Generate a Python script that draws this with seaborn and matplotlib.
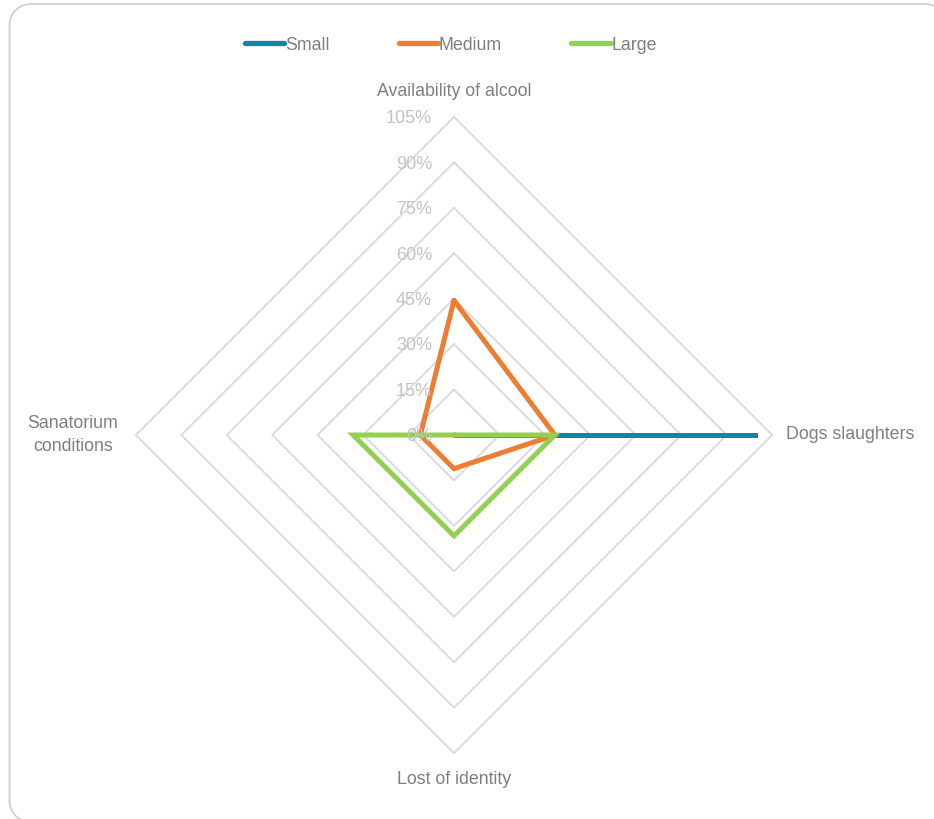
import numpy as np
import pandas as pd
import seaborn as sns
import matplotlib
matplotlib.use("Agg")
import matplotlib.pyplot as plt
from matplotlib.lines import Line2D

# Share of respondents per factor, by community size (%)
categories = ["Availability of alcool", "Dogs slaughters", "Lost of identity", "Sanatorium\nconditions"]
small = [0.0, 100.0, 0.0, 0.0]
medium = [44.4, 33.3, 11.1, 11.1]
large = [0.0, 33.3, 33.3, 33.3]
series_names = ["Small", "Medium", "Large"]
ring_levels = [0, 15, 30, 45, 60, 75, 90, 105]
ring_labels = ["0%", "15%", "30%", "45%", "60%", "75%", "90%", "105%"]

colors = {"Small": "#1185a8", "Medium": "#ee7d31", "Large": "#92d050"}
grid_color = "#d9d9d9"
text_color = "#7f7f7f"
tick_color = "#c3c3c3"

sns.set_theme(style="white")
plt.rcParams["font.family"] = ["Liberation Sans", "DejaVu Sans"]

# spokes: top, right, bottom, left
angles = np.array([np.pi / 2, 0.0, -np.pi / 2, np.pi])


def to_xy(values):
    v = np.asarray(values, dtype=float)
    x = v * np.cos(angles)
    y = v * np.sin(angles)
    return np.append(x, x[0]), np.append(y, y[0])


rows = []
for name, vals in zip(series_names, [small, medium, large]):
    xs, ys = to_xy(vals)
    for i, (x, y) in enumerate(zip(xs, ys)):
        rows.append({"series": name, "order": i, "x": x, "y": y})
df = pd.DataFrame(rows)

W, H = 934, 819
fig = plt.figure(figsize=(W / 100, H / 100), dpi=100)

# rounded chart border, drawn in pixel coordinates on a background axes
bg = fig.add_axes([0, 0, 1, 1], zorder=0)
bg.set_xlim(0, W)
bg.set_ylim(H, 0)
bg.axis("off")
x0, y0, x1, y1, r = 9.5, 4.0, 946.0, 822.0, 21.0
t = np.linspace(0, np.pi / 2, 20)
path_x = np.concatenate([
    x0 + r - r * np.cos(t),          # top-left corner
    x1 - r + r * np.sin(t),          # top-right corner
    x1 - r + r * np.cos(t),          # bottom-right corner
    x0 + r - r * np.sin(t),          # bottom-left corner
])
path_y = np.concatenate([
    y0 + r - r * np.sin(t),
    y0 + r - r * np.cos(t),
    y1 - r + r * np.sin(t),
    y1 - r + r * np.cos(t),
])
path_x = np.append(path_x, path_x[0])
path_y = np.append(path_y, path_y[0])
bg.plot(path_x, path_y, color="#cfcfcf", lw=1.3, clip_on=True)

ax = fig.add_axes([0, 0, 1, 1], zorder=1)
ax.patch.set_alpha(0)

# pixel geometry: centre at (454, 435), 3.03 px per percent
cx, cy, ppu = 454.0, 435.0, 3.03
ax.set_xlim(-cx / ppu, (W - cx) / ppu)
ax.set_ylim(-(H - cy) / ppu, cy / ppu)
ax.set_aspect("equal")
ax.axis("off")

# diamond grid rings
for lvl in ring_levels[1:]:
    gx, gy = to_xy([lvl] * 4)
    ax.plot(gx, gy, color=grid_color, lw=1.3, zorder=1)

# ring labels
for lvl, lab in zip(ring_levels, ring_labels):
    ax.text((432 - cx) / ppu, lvl - 0.6, lab, ha="right", va="center",
            fontsize=13, color=tick_color, zorder=4)

# series
for name in series_names:
    sub = df[df["series"] == name]
    sns.lineplot(data=sub, x="x", y="y", sort=False, estimator=None, ax=ax,
                 color=colors[name], lw=3.6, zorder=3, legend=False,
                 solid_joinstyle="miter", solid_capstyle="round")

# category labels
lab_kw = dict(fontsize=12.8, color=text_color)
ax.text(0, (cy - 92) / ppu, categories[0], ha="center", va="center", **lab_kw)
ax.text((786 - cx) / ppu, 0, categories[1], ha="left", va="center", **lab_kw)
ax.text(0, (cy - 779) / ppu, categories[2], ha="center", va="center", **lab_kw)
ax.text((73 - cx) / ppu, 0, categories[3], ha="center", va="center",
        linespacing=1.4, **lab_kw)

# legend
handles = [Line2D([0], [0], color=colors[n], lw=3.8, solid_capstyle="round")
           for n in series_names]
leg = fig.legend(handles, series_names, loc="center", ncol=3,
                 bbox_to_anchor=(451 / W, 1 - 45 / H), frameon=False,
                 fontsize=12.8, handlelength=2.2, handletextpad=0.05,
                 columnspacing=3.9, labelcolor=text_color)

fig.savefig("out.png", dpi=100)
